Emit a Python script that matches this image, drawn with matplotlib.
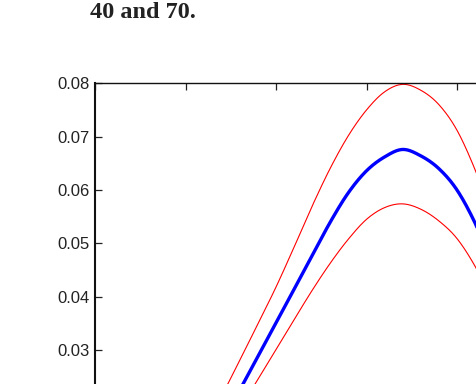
import matplotlib
matplotlib.use("Agg")
import matplotlib.pyplot as plt
import numpy as np

# data
x = [1.2, 1.4, 1.6, 1.8, 2.0, 2.2, 2.4, 2.6, 2.8, 3.0, 3.2, 3.4, 3.6, 3.8, 4.0, 4.2, 4.4]
upper = [0.0139, 0.0213, 0.0281, 0.0349, 0.0418, 0.0493, 0.0570, 0.0641, 0.0702, 0.0750,
         0.0784, 0.0798, 0.0787, 0.0760, 0.0712, 0.0638, 0.0548]
mean = [0.0096, 0.0160, 0.0225, 0.0288, 0.0351, 0.0414, 0.0477, 0.0540, 0.0595, 0.0636,
        0.0662, 0.0676, 0.0664, 0.0640, 0.0600, 0.0538, 0.0459]
lower = [0.0079, 0.0134, 0.0190, 0.0245, 0.0301, 0.0357, 0.0412, 0.0463, 0.0508, 0.0545,
         0.0567, 0.0574, 0.0564, 0.0542, 0.0509, 0.0457, 0.0390]
yticks = [0.00, 0.01, 0.02, 0.03, 0.04, 0.05, 0.06, 0.07, 0.08]
xticks = [0, 1, 2, 3, 4, 5]
caption = "40 and 70."


def smooth(xs, ys, n=400):
    xs = np.asarray(xs); ys = np.asarray(ys)
    xx = np.linspace(xs[0], xs[-1], n)
    out = np.empty_like(xx)
    for i, xv in enumerate(xx):
        k = np.searchsorted(xs, xv) - 1
        k = min(max(k, 0), len(xs) - 2)
        i0 = max(k - 1, 0); i3 = min(k + 2, len(xs) - 1)
        p0, p1, p2, p3 = ys[i0], ys[k], ys[k + 1], ys[i3]
        t = (xv - xs[k]) / (xs[k + 1] - xs[k])
        out[i] = 0.5 * ((2 * p1) + (-p0 + p2) * t + (2 * p0 - 5 * p1 + 4 * p2 - p3) * t ** 2
                        + (-p0 + 3 * p1 - 3 * p2 + p3) * t ** 3)
    return xx, out


W, H = 477, 384
fig = plt.figure(figsize=(W / 100, H / 100), dpi=100)

left = 95 / W
top = 1 - 83.3 / H
bottom = 1 - 510.1 / H
right_px = 95 + 5 * 90.5
ax = fig.add_axes([left, bottom, (right_px - 95) / W, top - bottom])

for ys, c, lw in [(upper, "#ff0000", 0.8), (lower, "#ff0000", 0.8), (mean, "#0000ff", 2.4)]:
    xx, yy = smooth(x, ys)
    ax.plot(xx, yy, color=c, lw=lw, solid_capstyle="round")

ax.set_xlim(0, 5)
ax.set_ylim(0, 0.08)
ax.set_yticks(yticks)
ax.set_yticklabels([f"{v:.2f}" for v in yticks], fontsize=12, family="Liberation Sans",
                   color="#222222")
ax.set_xticks(xticks)
ax.set_xticklabels([str(v) for v in xticks], fontsize=12, family="Liberation Sans",
                   color="#222222")
ax.tick_params(axis="both", direction="in", length=5, width=0.9, pad=4.1,
               top=True, right=True, colors="#222222", labelcolor="#222222")
ax.spines["left"].set_linewidth(1.5)
ax.spines["top"].set_linewidth(1.0)
for s in ax.spines.values():
    s.set_color("#111111")

fig.text(90 / W, 1 - 18.5 / H, caption, family="Liberation Serif", fontweight="bold",
         fontsize=17.5, va="baseline", ha="left", color="#222222")

fig.savefig("out.png", dpi=100)
